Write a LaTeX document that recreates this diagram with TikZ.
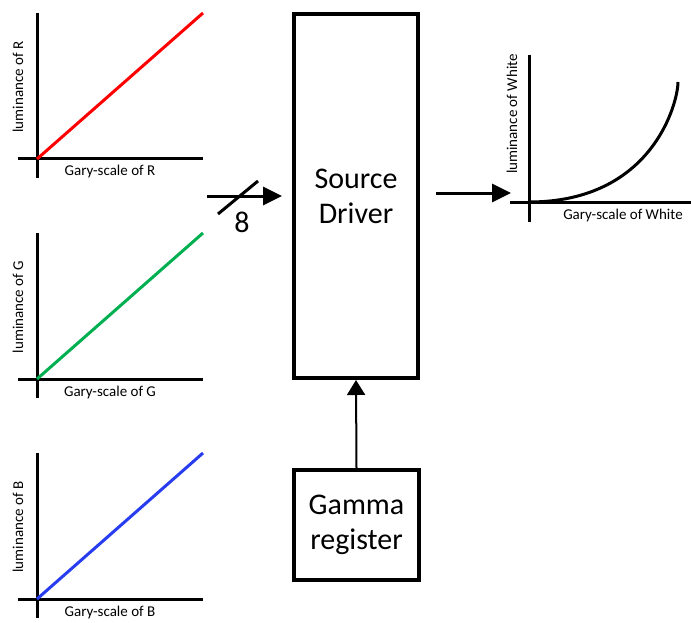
\documentclass[tikz,border=0pt]{standalone}
\usepackage{fontspec}
\setmainfont{Carlito}
\usetikzlibrary{arrows.meta}
\definecolor{lgreen}{RGB}{0,176,80}
\definecolor{lblue}{RGB}{40,60,240}
\begin{document}
\begin{tikzpicture}[x=1pt,y=-1pt,
  axis/.style={line width=3pt},
  curve/.style={line width=3pt},
  box/.style={draw,line width=4pt,inner sep=0pt,align=center,font=\fontsize{30}{35}\selectfont},
  small/.style={font=\fontsize{15}{17}\selectfont,inner sep=0pt},
  big/.style={font=\fontsize{30}{35}\selectfont,inner sep=0pt},
  arr/.style={line width=3pt,-{Triangle[length=19pt,width=18pt]}},
  thinarr/.style={line width=2pt,-{Triangle[length=15pt,width=18pt]}}]
\useasboundingbox (0,0) rectangle (691,623);
% RGB charts
\foreach \off/\col/\ch in {0/red/R,220/lgreen/G,440/lblue/B}{
  \coordinate (o\ch) at (37,159+\off);
  \draw[axis] (37,13+\off) -- (37,178+\off);
  \draw[axis] (18,159+\off) -- (203,159+\off);
  \draw[curve,\col] (o\ch) -- (203,13+\off);
  \node[small] (xl\ch) at (110,172+\off) {Gary-scale of \ch};
  \node[small,rotate=90] (yl\ch) at (18,87+\off) {luminance of \ch};
}
% boxes
\node[box,minimum width=124pt,minimum height=364pt] (sd) at (356,196) {Source\\Driver};
\node[box,minimum width=125pt,minimum height=110pt] (gr) at (356.5,525) {Gamma\\register};
% input arrow with bus width
\coordinate (in8) at (207,196);
\coordinate (in8e) at (282,196);
\draw[arr] (in8) -- (in8e);
\coordinate (sl1) at (218,214);
\coordinate (sl2) at (258,181);
\draw[line width=3pt] (sl1) -- (sl2);
\node[big] (n8) at (242,222) {8};
% gamma arrow
\draw[thinarr] (gr.north) -- (sd.south);
% output chart
\coordinate (wo) at (529,202);
\draw[axis] (529,55) -- (529,222);
\draw[axis] (510,202) -- (691,202);
\coordinate (wtop) at (678,82);
\draw[curve] (wo) .. controls (653,202) and (678,102) .. (wtop);
\node[small] (xlw) at (623,216) {Gary-scale of White};
\node[small,rotate=90] (ylw) at (512,114) {luminance of White};
\coordinate (outs) at (436,193);
\coordinate (oute) at (511,193);
\draw[arr] (outs) -- (oute);
\end{tikzpicture}
\end{document}
